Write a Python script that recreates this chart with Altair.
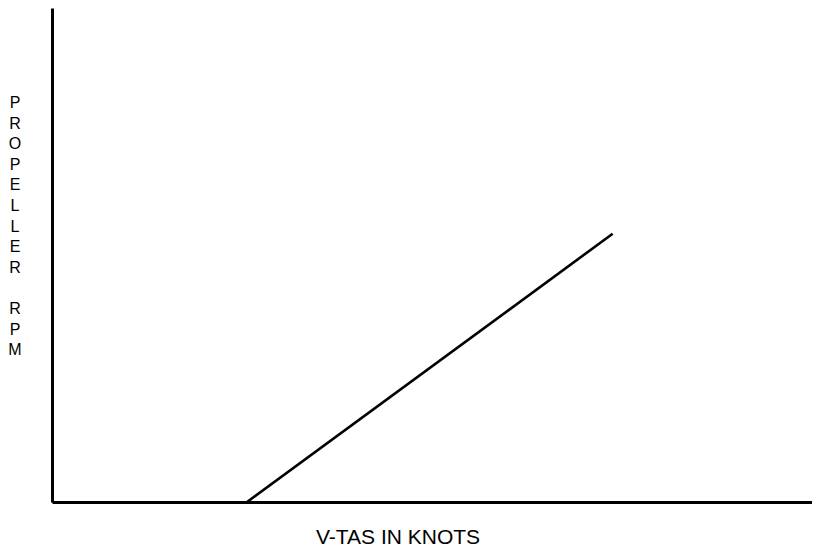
import altair as alt
import pandas as pd

# Data (axis domain 0..100 on both axes, no ticks shown)
x_vals = [25.4, 73.0]
y_vals = [0.0, 54.3]
y_title_word1 = ["P", "R", "O", "P", "E", "L", "L", "E", "R"]
y_title_word2 = ["R", "P", "M"]
x_title = "V-TAS IN KNOTS"

FONT = "Liberation Sans"
W, H = 760, 494
LH = 20.6

df = pd.DataFrame({"x": x_vals, "y": y_vals})

# x scale: data 0..100 maps to page 52..820 in the reference; plot ends at 812 here
x_scale = alt.Scale(domain=[0, 100 * W / 768], nice=False)
base_x = alt.X("x:Q", scale=x_scale, title=None,
               axis=alt.Axis(ticks=False, labels=False, grid=False, domainColor="black",
                             domainWidth=3))
base_y = alt.Y("y:Q", scale=alt.Scale(domain=[0, 100], nice=False), title=None,
               axis=alt.Axis(ticks=False, labels=False, grid=False, domainColor="black",
                             domainWidth=3))

line = alt.Chart(df).mark_line(color="black", strokeWidth=2.6).encode(x=base_x, y=base_y)

one = pd.DataFrame({"k": [0]})
ytitle1 = alt.Chart(one).mark_text(
    text=y_title_word1, font=FONT, fontSize=16, lineHeight=LH,
    align="center", baseline="middle", color="black"
).encode(x=alt.value(-37), y=alt.value(95))
ytitle2 = alt.Chart(one).mark_text(
    text=y_title_word2, font=FONT, fontSize=16, lineHeight=LH,
    align="center", baseline="middle", color="black"
).encode(x=alt.value(-37), y=alt.value(95 + 10 * LH))

xtitle = alt.Chart(one).mark_text(
    text=x_title, font=FONT, fontSize=21, align="center", baseline="alphabetic", color="black"
).encode(x=alt.value(346), y=alt.value(536))

chart = alt.layer(line, ytitle1, ytitle2, xtitle).properties(
    width=W, height=H,
    autosize=alt.AutoSizeParams(type="none"),
    padding={"left": 44, "top": 0, "right": 0, "bottom": 46},
).configure_view(stroke=None)

chart.save("out.html", embed_options={"renderer": "svg", "actions": False})
